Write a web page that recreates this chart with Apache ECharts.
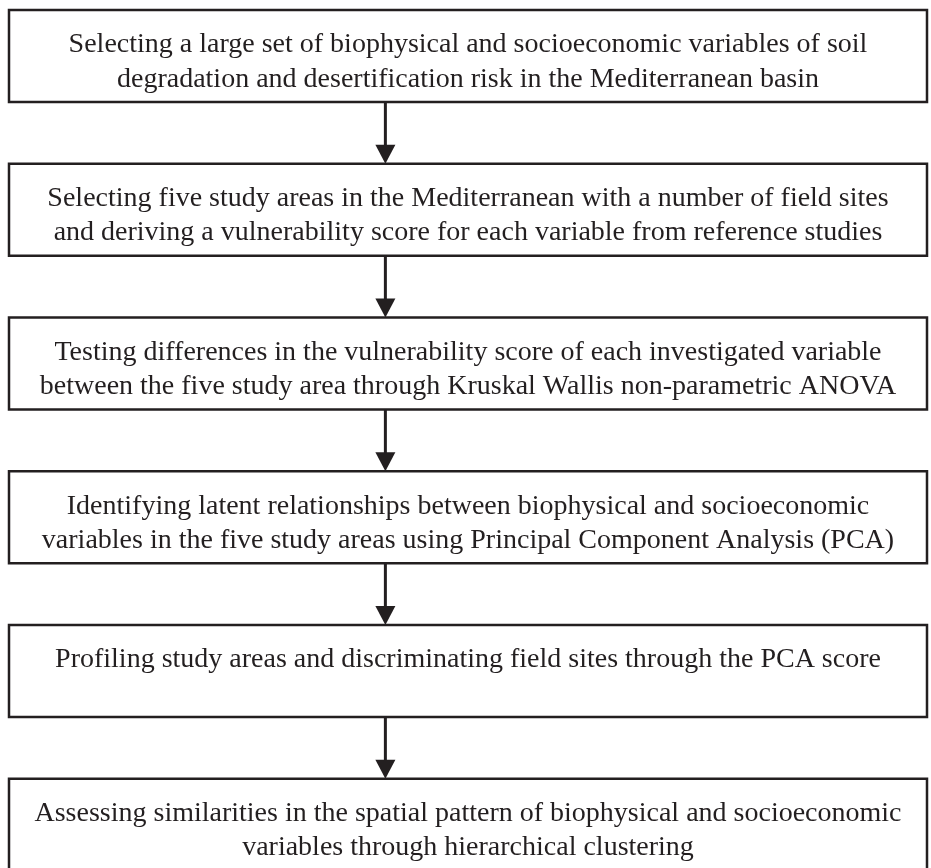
<!DOCTYPE html>
<html>
<head>
<meta charset="utf-8">
<script src="https://cdn.jsdelivr.net/npm/echarts@6/dist/echarts.min.js"></script>
<style>
  html, body { margin: 0; padding: 0; background: #fff; }
  #chart { width: 931px; height: 868px; }
</style>
</head>
<body>
<div id="chart"></div>
<script>
// flow steps, top to bottom
const steps = [
  ['Selecting a large set of biophysical and socioeconomic variables of soil',
   'degradation and desertification risk in the Mediterranean basin'],
  ['Selecting five study areas in the Mediterranean with a number of field sites',
   'and deriving a vulnerability score for each variable from reference studies'],
  ['Testing differences in the vulnerability score of each investigated variable',
   'between the five study area through Kruskal Wallis non-parametric ANOVA'],
  ['Identifying latent relationships between biophysical and socioeconomic',
   'variables in the five study areas using Principal Component Analysis (PCA)'],
  ['Profiling study areas and discriminating field sites through the PCA score'],
  ['Assessing similarities in the spatial pattern of biophysical and socioeconomic',
   'variables through hierarchical clustering']
]
// arrows link step i to step i+1
const links = [[0, 1], [1, 2], [2, 3], [3, 4], [4, 5]]

const boxSpan = 0.598   // share of one step taken by the box
const arrowX = 41       // on the 0-100 horizontal scale
const ink = '#231f20'
const font = '"Liberation Serif", serif'

const chart = echarts.init(document.getElementById('chart'))

const renderBox = (params, api) => {
  const i = api.value(0)
  const tl = api.coord([0, i])
  const br = api.coord([100, i + boxSpan])
  const lines = steps[i]
  const children = [{
    type: 'rect',
    shape: { x: tl[0], y: tl[1], width: br[0] - tl[0], height: br[1] - tl[1] },
    style: { fill: '#fff', stroke: ink, lineWidth: 2.5 }
  }]
  lines.forEach((t, k) => {
    const p = api.coord([50, i + 0.228 + 0.222 * k])
    children.push({
      type: 'text',
      x: p[0],
      y: p[1],
      style: {
        text: t,
        fill: ink,
        font: '28px ' + font,
        align: 'center',
        verticalAlign: 'middle'
      }
    })
  })
  return { type: 'group', children }
}

const renderArrow = (params, api) => {
  const from = api.value(0)
  const to = api.value(1)
  const a = api.coord([arrowX, from + boxSpan])
  const b = api.coord([arrowX, to])
  const headH = 19, headW = 10
  return {
    type: 'group',
    children: [
      {
        type: 'line',
        shape: { x1: a[0], y1: a[1], x2: b[0], y2: b[1] - headH + 2 },
        style: { stroke: ink, lineWidth: 3 }
      },
      {
        type: 'polygon',
        shape: { points: [[b[0] - headW, b[1] - headH], [b[0] + headW, b[1] - headH], [b[0], b[1]]] },
        style: { fill: ink }
      }
    ]
  }
}

chart.setOption({
  animation: false,
  grid: { left: 9, right: 4, top: 10, bottom: 0 },
  xAxis: { type: 'value', min: 0, max: 100, show: false },
  yAxis: { type: 'value', min: 0, max: 5.58, inverse: true, show: false },
  series: [
    {
      type: 'custom',
      renderItem: renderArrow,
      data: links,
      z: 1
    },
    {
      type: 'custom',
      renderItem: renderBox,
      data: steps.map((s, i) => [i]),
      z: 2
    }
  ]
})
</script>
</body>
</html>
